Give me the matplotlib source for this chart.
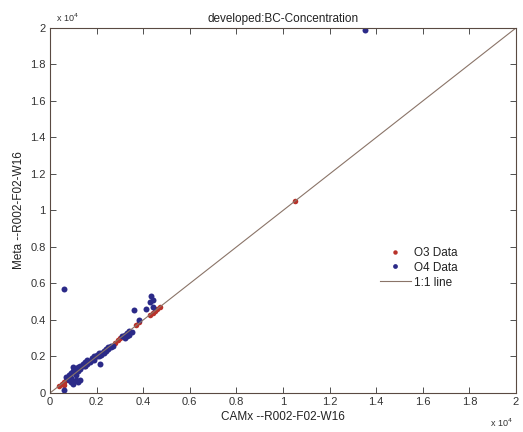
import numpy as np
import matplotlib
matplotlib.use('Agg')
import matplotlib.pyplot as plt
from matplotlib.ticker import FuncFormatter

plt.rcParams['font.family'] = ['Liberation Sans', 'DejaVu Sans']

# --- data (raw concentration values, axis shown in units of 1e4) ---
o3_x = [400, 500, 600, 700, 800, 600, 1500, 2000, 2800, 2900, 3000,
        3700, 3800, 4300, 4400, 4500, 4600, 4700, 10500]
o3_y = [400, 500, 600, 700, 800, 450, 1500, 2000, 2750, 2900, 3000,
        3700, 3900, 4300, 4400, 4500, 4600, 4700, 10500]

o4_x = [700, 800, 800, 900, 900, 1000, 1000, 1100, 1100, 1200, 1200, 1300, 1300,
        1400, 1400, 1500, 1500, 1600, 1600, 1700, 1800, 1800, 1900, 1900, 2000,
        2000, 2100, 2100, 2200, 2200, 2300, 2300, 2400, 2400, 2500, 2500, 2600,
        2600, 2700, 3100, 3200, 3200, 3300, 3300, 3400, 3400, 3500,
        900, 1000, 1100, 1200, 1300, 900,
        600, 600, 2150, 3600, 4100, 3800, 4350, 4400, 4300, 4400, 13500]
o4_y = [900, 700, 1000, 1100, 800, 1200, 1400, 1000, 1300, 1400, 1200, 1500, 1300,
        1500, 1600, 1500, 1700, 1600, 1800, 1700, 1800, 1900, 2000, 1800, 2000,
        2100, 2000, 2200, 2100, 2200, 2300, 2200, 2400, 2300, 2400, 2500, 2500,
        2600, 2600, 3100, 3000, 3200, 3100, 3300, 3200, 3400, 3350,
        600, 500, 700, 600, 700, 700,
        5700, 150, 1600, 4550, 4600, 4000, 5300, 5100, 5000, 4700, 19900]

line_x = [0, 20000]
line_y = [0, 20000]

axis_col = '#5a4a42'

fig = plt.figure(figsize=(5.23, 4.32), dpi=100)
ax = fig.add_axes([0.0956, 0.0903, 0.891, 0.845])

ax.plot(o3_x, o3_y, 'o', color='#b8322a', markersize=4.0, markeredgewidth=0, label='O3 Data')
ax.plot(o4_x, o4_y, 'o', color='#2b2a88', markersize=4.3, markeredgewidth=0, label='O4 Data')
ax.plot(line_x, line_y, '-', color='#8a7468', linewidth=0.8, label='1:1 line')

ax.set_xlim(0, 20000)
ax.set_ylim(0, 20000)
ticks = np.arange(0, 20001, 2000)
ax.set_xticks(ticks)
ax.set_yticks(ticks)
fmt = FuncFormatter(lambda v, p: '%g' % (v / 10000.0))
ax.xaxis.set_major_formatter(fmt)
ax.yaxis.set_major_formatter(fmt)
ax.tick_params(direction='in', top=True, right=True, length=4, width=0.6,
               labelsize=8, colors='#333333', pad=3)
for s in ax.spines.values():
    s.set_color(axis_col)
    s.set_linewidth(0.8)

ax.set_title('developed:BC-Concentration', fontsize=8.5, color='#222222', pad=4)
ax.set_xlabel('CAMx --R002-F02-W16', fontsize=8.5, color='#222222', labelpad=3)
ax.set_ylabel('Meta --R002-F02-W16', fontsize=8.5, color='#222222', labelpad=4)

# MATLAB-style exponent labels
fig.text(0.107, 0.958, 'x 10$^4$', fontsize=6.5, color='#333333', va='center', ha='left')
fig.text(0.937, 0.022, 'x 10$^4$', fontsize=6.5, color='#333333', va='center', ha='left')

leg = ax.legend(loc='upper left', bbox_to_anchor=(0.685, 0.43), frameon=False,
                fontsize=8.5, handlelength=2.6, handletextpad=0.3, labelspacing=0.25,
                numpoints=1, markerscale=0.8)
for t in leg.get_texts():
    t.set_color('#222222')

plt.savefig('out.png', dpi=100)
plt.close()
